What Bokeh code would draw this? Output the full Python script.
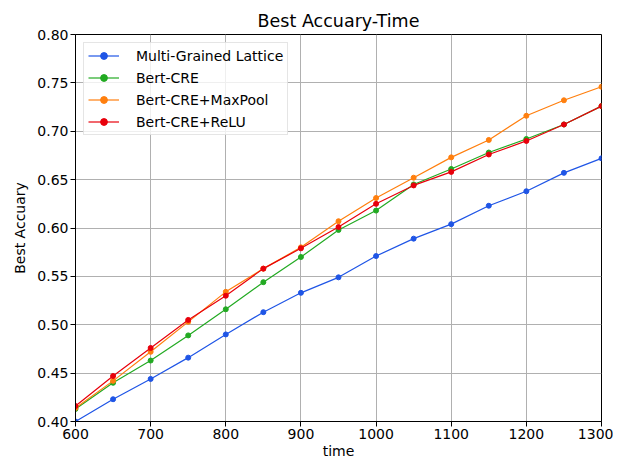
from bokeh.plotting import figure
from bokeh.models import Range1d, FixedTicker, NumeralTickFormatter, Legend, LegendItem
from bokeh.embed import file_html
from bokeh.resources import INLINE

times = [600, 650, 700, 750, 800, 850, 900, 950, 1000, 1050, 1100, 1150, 1200, 1250, 1300]
lattice = [0.400, 0.423, 0.444, 0.466, 0.490, 0.513, 0.533, 0.549, 0.571, 0.589, 0.604, 0.623, 0.638, 0.657, 0.672]
bert_cre = [0.413, 0.440, 0.463, 0.489, 0.516, 0.544, 0.570, 0.598, 0.618, 0.645, 0.661, 0.678, 0.692, 0.707, 0.726]
bert_max = [0.414, 0.442, 0.472, 0.503, 0.534, 0.558, 0.580, 0.607, 0.631, 0.652, 0.673, 0.691, 0.716, 0.732, 0.746]
bert_relu = [0.416, 0.447, 0.476, 0.505, 0.530, 0.558, 0.579, 0.601, 0.625, 0.644, 0.658, 0.676, 0.690, 0.707, 0.726]

series = [
    ("Multi-Grained Lattice", lattice, "#1f55e6"),
    ("Bert-CRE", bert_cre, "#22aa22"),
    ("Bert-CRE+MaxPool", bert_max, "#ff7f0e"),
    ("Bert-CRE+ReLU", bert_relu, "#e8000b"),
]

x_ticks = [600, 700, 800, 900, 1000, 1100, 1200, 1300]
y_ticks = [0.40, 0.45, 0.50, 0.55, 0.60, 0.65, 0.70, 0.75, 0.80]

FONT = "DejaVu Sans"

p = figure(width=613, height=461, output_backend="svg", toolbar_location=None,
           x_range=Range1d(600, 1300), y_range=Range1d(0.40, 0.80),
           title="Best Accuary-Time",
           min_border_left=75, min_border_right=12, min_border_top=34, min_border_bottom=30)

p.title.text_font = FONT
p.title.text_font_size = "17.5px"
p.title.text_font_style = "normal"
p.title.align = "center"
p.title.text_color = "black"
p.title.standoff = 7

p.outline_line_color = "black"
p.outline_line_width = 1
p.outline_line_alpha = 1

for ax in (p.xaxis[0], p.yaxis[0]):
    ax.axis_line_color = "black"
    ax.major_tick_line_color = "black"
    ax.major_tick_out = 5
    ax.major_tick_in = 0
    ax.minor_tick_line_color = None
    ax.major_label_text_font = FONT
    ax.major_label_text_font_size = "14px"
    ax.major_label_text_color = "black"
    ax.axis_label_text_font = FONT
    ax.axis_label_text_font_size = "14px"
    ax.axis_label_text_font_style = "normal"
    ax.axis_label_text_color = "black"
    ax.major_label_standoff = 2

p.xaxis.axis_label_standoff = 1
p.yaxis.axis_label_standoff = 6

p.xaxis.ticker = FixedTicker(ticks=x_ticks)
p.yaxis.ticker = FixedTicker(ticks=y_ticks)
p.yaxis.formatter = NumeralTickFormatter(format="0.00")
p.xaxis.axis_label = "time"
p.yaxis.axis_label = "Best Accuary"

p.xgrid.grid_line_color = "#b0b0b0"
p.ygrid.grid_line_color = "#b0b0b0"
p.xgrid.grid_line_width = 1
p.ygrid.grid_line_width = 1

items = []
for name, vals, col in series:
    r1 = p.line(times, vals, line_color=col, line_width=1.2)
    r2 = p.scatter(times, vals, marker="circle", size=5, fill_color=col, line_color=col)
    items.append(LegendItem(label=name, renderers=[r1, r2]))

legend = Legend(items=items, location="top_left")
legend.label_text_font = FONT
legend.label_text_font_size = "14px"
legend.label_text_color = "black"
legend.glyph_width = 31
legend.glyph_height = 17
legend.label_height = 17
legend.spacing = 5
legend.padding = 4
legend.margin = 8
legend.label_standoff = 17
legend.border_line_color = "#cccccc"
legend.border_line_width = 1
legend.background_fill_alpha = 0.8
p.add_layout(legend, "center")

open("out.html", "w").write(file_html(p, INLINE))
